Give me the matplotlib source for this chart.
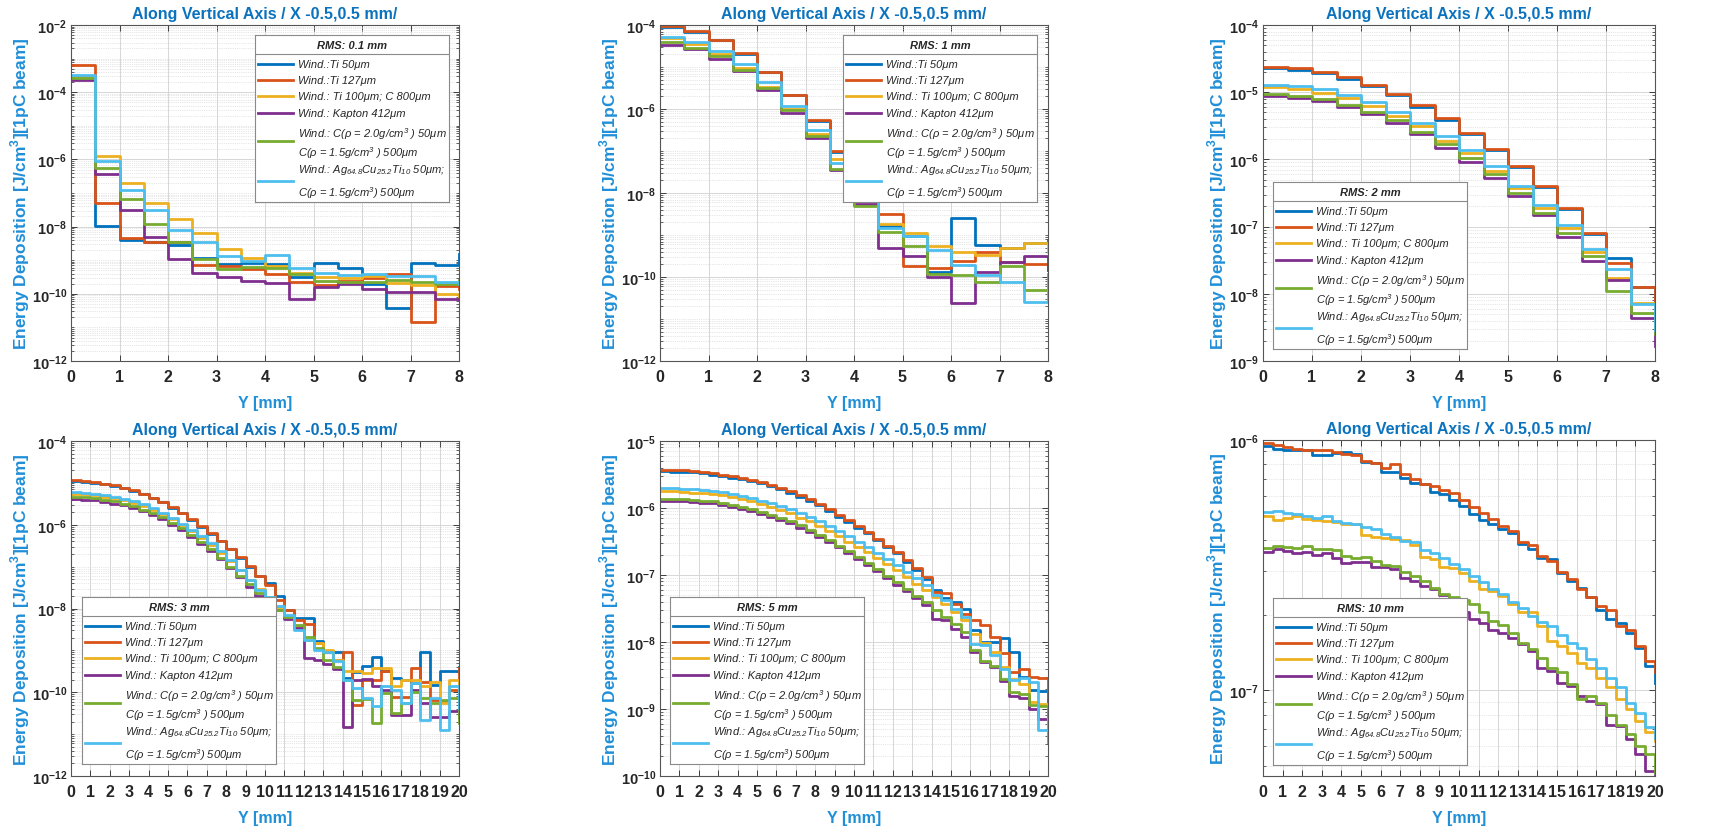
import numpy as np
import matplotlib
matplotlib.use("Agg")
import matplotlib.pyplot as plt
from matplotlib.ticker import LogLocator, NullFormatter, FixedLocator

plt.rcParams['font.family'] = 'Liberation Sans'

# ---------------------------------------------------------------- data
edges_8 = np.linspace(0, 8, 17)
edges_20 = np.linspace(0, 20, 41)

rms_titles = ["RMS: 0.1 mm", "RMS: 1 mm", "RMS: 2 mm", "RMS: 3 mm", "RMS: 5 mm", "RMS: 10 mm"]

labels = [
    ["Wind.:Ti 50μm"],
    ["Wind.:Ti 127μm"],
    ["Wind.: Ti 100μm; C 800μm"],
    ["Wind.: Kapton 412μm"],
    [r"Wind.: C(ρ = 2.0g/cm$^{\mathdefault{3}}$ ) 50μm",
     r"C(ρ = 1.5g/cm$^{\mathdefault{3}}$ ) 500μm"],
    [r"Wind.: Ag$_{\mathdefault{64.8}}$Cu$_{\mathdefault{25.2}}$Ti$_{\mathdefault{10}}$ 50μm;",
     r"C(ρ = 1.5g/cm$^{\mathdefault{3}}$) 500μm"],
]
colors = ['#0072BD', '#D95319', '#EDB120', '#7E2F8E', '#77AC30', '#4DBEEE']

# RMS 0.1 mm  (bins of 0.5 mm, last value = closing edge)
r01_ti50 = [3.0e-4, 1.05e-8, 4.0e-9, 3.5e-9, 2.8e-9, 1.2e-9, 7.6e-10, 8.5e-10, 7.6e-10, 3.2e-10, 8.5e-10, 6.0e-10, 1.9e-10, 3.7e-11, 8.5e-10, 7.2e-10, 1.5e-9]
r01_ti127 = [6.6e-4, 4.9e-8, 4.6e-9, 3.4e-9, 3.4e-9, 7.2e-10, 6.8e-10, 5.3e-10, 4.0e-10, 2.2e-10, 1.8e-10, 2.4e-10, 3.0e-10, 3.8e-10, 1.4e-11, 1.7e-10, 1.4e-10]
r01_ticc = [2.8e-4, 1.3e-6, 2.0e-7, 5.1e-8, 1.7e-8, 6.6e-9, 2.1e-9, 1.2e-9, 6.8e-10, 4.1e-10, 3.2e-10, 3.0e-10, 3.5e-10, 2.1e-10, 1.8e-10, 1.0e-10, 6.5e-11]
r01_kapton = [2.3e-4, 3.6e-7, 3.2e-8, 4.9e-9, 1.07e-9, 4.3e-10, 3.2e-10, 2.4e-10, 2.1e-10, 6.9e-11, 1.6e-10, 1.9e-10, 1.4e-10, 1.1e-10, 1.1e-10, 6.9e-11, 6.5e-11]
r01_carbon = [2.6e-4, 5.7e-7, 6.6e-8, 1.2e-8, 3.4e-9, 1.07e-9, 5.3e-10, 6.4e-10, 6.0e-10, 3.9e-10, 2.4e-10, 2.2e-10, 2.3e-10, 2.6e-10, 2.2e-10, 1.9e-10, 2.6e-10]
r01_agcuti = [3.3e-4, 8.7e-7, 1.2e-7, 3.2e-8, 7.8e-9, 3.4e-9, 1.35e-9, 9.5e-10, 1.45e-9, 5.7e-10, 4.1e-10, 3.6e-10, 3.8e-10, 3.4e-10, 3.5e-10, 2.2e-10, 2.0e-10]

# RMS 1 mm
r1_ti50 = [9.2e-5, 6.8e-5, 4.3e-5, 2.0e-5, 7.4e-6, 2.1e-6, 5.2e-7, 9.5e-8, 1.5e-8, 1.6e-9, 9.5e-10, 1.3e-10, 2.6e-9, 5.9e-10, 4.9e-10, 6.4e-10, 7.5e-10]
r1_ti127 = [9.6e-5, 7.1e-5, 4.5e-5, 2.1e-5, 7.7e-6, 2.2e-6, 5.5e-7, 1.0e-7, 1.7e-8, 3.2e-9, 1.8e-10, 1.6e-10, 2.4e-10, 4.0e-10, 2.3e-10, 2.0e-10, 1.5e-10]
r1_ticc = [4.8e-5, 3.5e-5, 2.0e-5, 9.7e-6, 3.4e-6, 1.0e-6, 2.5e-7, 6.6e-8, 8.0e-9, 1.8e-9, 1.1e-9, 5.6e-10, 3.9e-10, 3.4e-10, 4.9e-10, 6.4e-10, 3.9e-10]
r1_kapton = [3.4e-5, 2.7e-5, 1.55e-5, 8.1e-6, 2.9e-6, 8.2e-7, 2.0e-7, 3.6e-8, 5.6e-9, 4.9e-10, 3.2e-10, 1.0e-10, 2.4e-11, 1.3e-10, 2.3e-10, 3.2e-10, 1.5e-10]
r1_carbon = [3.9e-5, 2.9e-5, 1.8e-5, 8.6e-6, 3.1e-6, 9.3e-7, 2.3e-7, 3.8e-8, 5.0e-9, 1.2e-9, 5.4e-10, 1.2e-10, 1.1e-10, 7.4e-11, 1.8e-10, 4.9e-11, 1.2e-10]
r1_agcuti = [5.1e-5, 3.9e-5, 2.4e-5, 1.2e-5, 4.4e-6, 1.2e-6, 3.1e-7, 5.2e-8, 7.0e-9, 1.5e-9, 9.4e-10, 4.3e-10, 1.9e-10, 1.1e-10, 7.5e-11, 2.6e-11, 8.0e-11]

# RMS 2 mm
r2_ti50 = [2.3e-5, 2.15e-5, 1.9e-5, 1.58e-5, 1.22e-5, 9.0e-6, 6.1e-6, 3.9e-6, 2.4e-6, 1.4e-6, 7.7e-7, 3.9e-7, 1.85e-7, 7.8e-8, 3.4e-8, 1.25e-8, 5.0e-9]
r2_ti127 = [2.4e-5, 2.26e-5, 2.0e-5, 1.66e-5, 1.28e-5, 9.4e-6, 6.4e-6, 4.1e-6, 2.5e-6, 1.45e-6, 8.0e-7, 4.0e-7, 1.9e-7, 8.1e-8, 2.9e-8, 1.28e-8, 7.8e-9]
r2_ticc = [1.18e-5, 1.1e-5, 9.7e-6, 8.1e-6, 6.3e-6, 4.5e-6, 3.1e-6, 1.9e-6, 1.24e-6, 6.8e-7, 3.7e-7, 1.9e-7, 9.5e-8, 4.2e-8, 1.7e-8, 7.4e-9, 3.3e-9]
r2_kapton = [8.9e-6, 8.2e-6, 7.3e-6, 6.0e-6, 4.7e-6, 3.5e-6, 2.4e-6, 1.5e-6, 9.3e-7, 5.3e-7, 2.9e-7, 1.5e-7, 7.0e-8, 3.1e-8, 1.6e-8, 4.3e-9, 1.7e-9]
r2_carbon = [9.4e-6, 8.7e-6, 7.9e-6, 6.5e-6, 5.1e-6, 3.9e-6, 2.6e-6, 1.7e-6, 1.05e-6, 6.0e-7, 3.2e-7, 1.6e-7, 8.1e-8, 3.6e-8, 1.1e-8, 5.2e-9, 2.5e-9]
r2_agcuti = [1.3e-5, 1.22e-5, 1.1e-5, 9.1e-6, 7.1e-6, 5.0e-6, 3.5e-6, 2.2e-6, 1.4e-6, 7.9e-7, 4.0e-7, 2.1e-7, 1.05e-7, 4.6e-8, 2.3e-8, 7.1e-9, 2.9e-9]

# RMS 3 mm
r3_ti50 = [1.1e-5, 1.06e-5, 9.9e-6, 9.2e-6, 8.4e-6, 7.4e-6, 6.4e-6, 5.3e-6, 4.3e-6, 3.4e-6,
           2.5e-6, 1.87e-6, 1.3e-6, 9.0e-7, 6.0e-7, 4.0e-7, 2.6e-7, 1.62e-7, 9.9e-8, 5.9e-8,
           4.1e-8, 1.95e-8, 9.4e-9, 5.9e-9, 5.9e-9, 1.65e-9, 9.5e-10, 8.9e-10, 2.2e-10, 3.0e-10,
           4.3e-10, 6.8e-10, 3.2e-10, 2.2e-10, 2.0e-10, 1.65e-10, 8.9e-10, 1.5e-10, 3.2e-10, 3.2e-10, 4.1e-10]
r3_ti127 = [1.15e-5, 1.10e-5, 1.03e-5, 9.5e-6, 8.7e-6, 7.7e-6, 6.6e-6, 5.5e-6, 4.4e-6, 3.5e-6,
            2.6e-6, 1.93e-6, 1.34e-6, 9.3e-7, 6.2e-7, 4.1e-7, 2.66e-7, 1.68e-7, 1.02e-7, 6.1e-8,
            3.65e-8, 1.63e-8, 9.4e-9, 5.2e-9, 4.3e-9, 1.5e-9, 8.9e-10, 6.0e-10, 8.9e-10, 5.0e-11,
            2.0e-10, 2.0e-10, 3.2e-10, 7.9e-11, 7.9e-11, 3.8e-10, 1.8e-10, 6.6e-11, 6.0e-11, 1.15e-10, 3.8e-10]
r3_ticc = [5.5e-6, 5.3e-6, 5.0e-6, 4.7e-6, 4.3e-6, 3.8e-6, 3.3e-6, 2.8e-6, 2.2e-6, 1.76e-6,
           1.34e-6, 9.8e-7, 7.0e-7, 4.9e-7, 3.25e-7, 2.1e-7, 1.35e-7, 8.2e-8, 4.9e-8, 2.9e-8,
           1.8e-8, 1.1e-8, 6.3e-9, 3.7e-9, 1.8e-9, 1.5e-9, 1.0e-9, 5.8e-10, 3.3e-10, 3.2e-10,
           2.9e-10, 3.8e-10, 3.8e-10, 1.4e-10, 2.0e-10, 2.0e-10, 1.4e-10, 1.8e-10, 5.5e-11, 2.0e-10, 1.0e-10]
r3_kapton = [4.2e-6, 4.0e-6, 3.8e-6, 3.5e-6, 3.2e-6, 2.9e-6, 2.5e-6, 2.1e-6, 1.7e-6, 1.34e-6,
             1.0e-6, 7.3e-7, 5.1e-7, 3.5e-7, 2.3e-7, 1.48e-7, 9.1e-8, 5.5e-8, 3.3e-8, 1.95e-8,
             1.5e-8, 9.4e-9, 5.6e-9, 3.4e-9, 6.6e-10, 6.0e-10, 4.6e-10, 3.5e-10, 1.5e-11, 2.0e-10,
             2.1e-10, 1.4e-10, 1.15e-10, 2.9e-11, 2.9e-11, 1.15e-10, 5.5e-11, 2.5e-11, 2.6e-11, 3.5e-11, 2.6e-11]
r3_carbon = [4.7e-6, 4.5e-6, 4.3e-6, 4.0e-6, 3.6e-6, 3.2e-6, 2.8e-6, 2.3e-6, 1.9e-6, 1.5e-6,
             1.1e-6, 8.2e-7, 5.8e-7, 3.9e-7, 2.57e-7, 1.62e-7, 9.9e-8, 6.1e-8, 3.9e-8, 2.35e-8,
             1.5e-8, 9.4e-9, 6.3e-9, 4.1e-9, 2.1e-9, 1.14e-9, 6.0e-10, 4.0e-10, 2.0e-10, 6.6e-11,
             7.0e-11, 1.8e-11, 9.6e-11, 3.2e-11, 5.5e-11, 1.0e-10, 7.3e-11, 5.5e-11, 6.6e-11, 7.3e-11, 1.8e-11]
r3_agcuti = [6.1e-6, 5.8e-6, 5.5e-6, 5.1e-6, 4.7e-6, 4.2e-6, 3.6e-6, 3.05e-6, 2.45e-6, 1.93e-6,
             1.47e-6, 1.07e-6, 7.7e-7, 5.4e-7, 3.6e-7, 2.3e-7, 1.41e-7, 8.5e-8, 4.9e-8, 2.8e-8,
             1.85e-8, 1.17e-8, 7.1e-9, 3.1e-9, 1.8e-9, 1.0e-9, 8.9e-10, 5.5e-10, 2.0e-10, 1.25e-10,
             7.3e-11, 4.6e-11, 1.4e-10, 1.15e-10, 5.5e-11, 1.65e-10, 2.2e-11, 7.3e-11, 1.26e-11, 1.4e-10, 4.3e-11]

# RMS 5 mm
r5_ti50 = [3.55e-6, 3.5e-6, 3.47e-6, 3.4e-6, 3.3e-6, 3.16e-6, 3.0e-6, 2.82e-6, 2.7e-6, 2.5e-6,
           2.35e-6, 2.15e-6, 1.9e-6, 1.7e-6, 1.48e-6, 1.29e-6, 1.1e-6, 8.9e-7, 7.4e-7, 6.2e-7,
           5.1e-7, 4.2e-7, 3.3e-7, 2.6e-7, 2.1e-7, 1.58e-7, 1.2e-7, 8.7e-8, 6.0e-8, 4.5e-8,
           4.0e-8, 3.1e-8, 1.5e-8, 1.0e-8, 1.0e-8, 1.15e-8, 7.0e-9, 3.0e-9, 1.9e-9, 1.86e-9, 1.2e-9]
r5_ti127 = [3.7e-6, 3.67e-6, 3.63e-6, 3.55e-6, 3.47e-6, 3.3e-6, 3.16e-6, 3.0e-6, 2.82e-6, 2.63e-6,
            2.45e-6, 2.24e-6, 2.0e-6, 1.78e-6, 1.55e-6, 1.35e-6, 1.15e-6, 9.5e-7, 7.9e-7, 6.6e-7,
            5.4e-7, 4.4e-7, 3.5e-7, 2.75e-7, 2.2e-7, 1.7e-7, 1.26e-7, 9.3e-8, 5.6e-8, 5.4e-8,
            3.7e-8, 2.6e-8, 2.15e-8, 1.8e-8, 1.2e-8, 6.8e-9, 3.6e-9, 3.9e-9, 3.0e-9, 2.95e-9, 1.5e-9]
r5_ticc = [1.78e-6, 1.78e-6, 1.74e-6, 1.7e-6, 1.66e-6, 1.62e-6, 1.55e-6, 1.45e-6, 1.35e-6, 1.26e-6,
           1.15e-6, 1.05e-6, 9.3e-7, 8.3e-7, 7.2e-7, 6.3e-7, 5.4e-7, 4.6e-7, 3.8e-7, 3.16e-7,
           2.63e-7, 2.2e-7, 1.78e-7, 1.45e-7, 1.17e-7, 9.3e-8, 7.4e-8, 5.9e-8, 4.7e-8, 3.7e-8,
           2.8e-8, 2.1e-8, 1.32e-8, 9.5e-9, 7.2e-9, 4.2e-9, 2.8e-9, 2.4e-9, 1.26e-9, 1.2e-9, 1.12e-9]
r5_kapton = [1.29e-6, 1.29e-6, 1.26e-6, 1.23e-6, 1.2e-6, 1.17e-6, 1.12e-6, 1.05e-6, 9.8e-7, 8.9e-7,
             8.1e-7, 7.4e-7, 6.6e-7, 5.9e-7, 5.1e-7, 4.4e-7, 3.7e-7, 3.1e-7, 2.6e-7, 2.1e-7,
             1.74e-7, 1.41e-7, 1.15e-7, 9.1e-8, 7.2e-8, 5.8e-8, 4.6e-8, 3.6e-8, 2.2e-8, 2.1e-8,
             1.58e-8, 1.2e-8, 7.1e-9, 5.0e-9, 4.2e-9, 2.6e-9, 1.58e-9, 1.45e-9, 1.0e-9, 7.1e-10, 8.9e-10]
r5_carbon = [1.38e-6, 1.38e-6, 1.35e-6, 1.32e-6, 1.29e-6, 1.26e-6, 1.2e-6, 1.12e-6, 1.05e-6, 9.5e-7,
             8.7e-7, 7.9e-7, 7.1e-7, 6.3e-7, 5.5e-7, 4.7e-7, 4.0e-7, 3.3e-7, 2.75e-7, 2.3e-7,
             1.86e-7, 1.51e-7, 1.23e-7, 9.8e-8, 7.8e-8, 6.2e-8, 4.9e-8, 3.9e-8, 3.0e-8, 2.4e-8,
             1.86e-8, 1.41e-8, 7.6e-9, 5.2e-9, 4.4e-9, 2.8e-9, 1.78e-9, 1.66e-9, 1.15e-9, 1.1e-9, 3.2e-10]
r5_agcuti = [2.0e-6, 2.0e-6, 1.95e-6, 1.9e-6, 1.86e-6, 1.82e-6, 1.74e-6, 1.62e-6, 1.51e-6, 1.41e-6,
             1.29e-6, 1.17e-6, 1.07e-6, 9.5e-7, 8.5e-7, 7.4e-7, 6.3e-7, 5.4e-7, 4.6e-7, 3.8e-7,
             3.16e-7, 2.63e-7, 2.14e-7, 1.74e-7, 1.41e-7, 1.12e-7, 8.9e-8, 7.1e-8, 5.0e-8, 4.2e-8,
             3.16e-8, 2.4e-8, 9.3e-9, 9.1e-9, 6.5e-9, 4.0e-9, 2.7e-9, 2.9e-9, 2.5e-9, 4.9e-10, 7.1e-10]

# RMS 10 mm
r10_ti50 = [9.45e-7, 9.2e-7, 9.15e-7, 9.1e-7, 9.1e-7, 8.7e-7, 8.7e-7, 8.85e-7, 8.95e-7, 8.8e-7,
            8.17e-7, 8.1e-7, 7.45e-7, 7.45e-7, 7.08e-7, 6.75e-7, 6.7e-7, 6.2e-7, 6.07e-7, 5.75e-7,
            5.45e-7, 5.05e-7, 4.79e-7, 4.6e-7, 4.4e-7, 4.26e-7, 3.83e-7, 3.66e-7, 3.39e-7, 3.34e-7,
            2.93e-7, 2.73e-7, 2.57e-7, 2.35e-7, 2.1e-7, 1.92e-7, 1.85e-7, 1.7e-7, 1.48e-7, 1.25e-7, 1.07e-7]
r10_ti127 = [9.7e-7, 9.55e-7, 9.4e-7, 9.2e-7, 9.1e-7, 9.1e-7, 9.1e-7, 8.95e-7, 8.8e-7, 8.7e-7,
             8.25e-7, 8.1e-7, 7.75e-7, 8.0e-7, 7.3e-7, 7.0e-7, 6.7e-7, 6.55e-7, 6.3e-7, 6.15e-7,
             5.75e-7, 5.4e-7, 5.1e-7, 4.85e-7, 4.55e-7, 4.35e-7, 3.9e-7, 3.8e-7, 3.45e-7, 3.3e-7,
             2.97e-7, 2.78e-7, 2.53e-7, 2.35e-7, 2.17e-7, 2.1e-7, 1.81e-7, 1.74e-7, 1.5e-7, 1.31e-7, 1.18e-7]
r10_ticc = [4.97e-7, 4.79e-7, 4.9e-7, 4.97e-7, 4.85e-7, 4.79e-7, 4.75e-7, 4.7e-7, 4.6e-7, 4.6e-7,
            4.16e-7, 4.11e-7, 4.07e-7, 4.03e-7, 4.0e-7, 3.8e-7, 3.42e-7, 3.34e-7, 3.12e-7, 3.09e-7,
            2.95e-7, 2.73e-7, 2.55e-7, 2.49e-7, 2.38e-7, 2.22e-7, 2.06e-7, 2.05e-7, 1.81e-7, 1.57e-7,
            1.5e-7, 1.41e-7, 1.29e-7, 1.23e-7, 1.12e-7, 1.03e-7, 9.2e-8, 8.4e-8, 7.54e-8, 6.82e-8, 6.3e-8]
r10_kapton = [3.57e-7, 3.68e-7, 3.6e-7, 3.55e-7, 3.57e-7, 3.46e-7, 3.55e-7, 3.39e-7, 3.22e-7, 3.26e-7,
              3.26e-7, 3.12e-7, 3.12e-7, 3.04e-7, 2.82e-7, 2.73e-7, 2.6e-7, 2.53e-7, 2.4e-7, 2.21e-7,
              2.05e-7, 1.92e-7, 1.85e-7, 1.75e-7, 1.7e-7, 1.62e-7, 1.53e-7, 1.44e-7, 1.23e-7, 1.19e-7,
              1.07e-7, 1.04e-7, 9.5e-8, 9.07e-8, 8.8e-8, 7.3e-8, 7.2e-8, 6.37e-8, 5.55e-8, 4.77e-8, 4.55e-8]
r10_carbon = [3.71e-7, 3.77e-7, 3.75e-7, 3.71e-7, 3.77e-7, 3.66e-7, 3.66e-7, 3.64e-7, 3.44e-7, 3.39e-7,
              3.42e-7, 3.28e-7, 3.16e-7, 3.14e-7, 2.97e-7, 2.86e-7, 2.73e-7, 2.57e-7, 2.42e-7, 2.37e-7,
              2.3e-7, 2.21e-7, 2.05e-7, 1.89e-7, 1.82e-7, 1.7e-7, 1.55e-7, 1.46e-7, 1.35e-7, 1.23e-7,
              1.18e-7, 1.06e-7, 9.2e-8, 9.5e-8, 8.9e-8, 8.0e-8, 7.3e-8, 6.67e-8, 6.0e-8, 5.55e-8, 4.69e-8]
r10_agcuti = [5.16e-7, 5.2e-7, 5.13e-7, 5.05e-7, 4.97e-7, 4.9e-7, 4.97e-7, 4.75e-7, 4.68e-7, 4.6e-7,
              4.49e-7, 4.43e-7, 4.2e-7, 4.11e-7, 3.95e-7, 3.91e-7, 3.64e-7, 3.55e-7, 3.39e-7, 3.19e-7,
              3.04e-7, 2.86e-7, 2.71e-7, 2.53e-7, 2.42e-7, 2.25e-7, 2.14e-7, 1.98e-7, 1.87e-7, 1.81e-7,
              1.67e-7, 1.55e-7, 1.48e-7, 1.33e-7, 1.23e-7, 1.12e-7, 1.03e-7, 8.9e-8, 8.15e-8, 7.16e-8, 6.47e-8]

panels = [
    (edges_8, [r01_ti50, r01_ti127, r01_ticc, r01_kapton, r01_carbon, r01_agcuti], (1e-12, 1e-2), [1e-12, 1e-10, 1e-8, 1e-6, 1e-4, 1e-2]),
    (edges_8, [r1_ti50, r1_ti127, r1_ticc, r1_kapton, r1_carbon, r1_agcuti], (1e-12, 1e-4), [1e-12, 1e-10, 1e-8, 1e-6, 1e-4]),
    (edges_8, [r2_ti50, r2_ti127, r2_ticc, r2_kapton, r2_carbon, r2_agcuti], (1e-9, 1e-4), [1e-9, 1e-8, 1e-7, 1e-6, 1e-5, 1e-4]),
    (edges_20, [r3_ti50, r3_ti127, r3_ticc, r3_kapton, r3_carbon, r3_agcuti], (1e-12, 1e-4), [1e-12, 1e-10, 1e-8, 1e-6, 1e-4]),
    (edges_20, [r5_ti50, r5_ti127, r5_ticc, r5_kapton, r5_carbon, r5_agcuti], (1e-10, 1e-5), [1e-10, 1e-9, 1e-8, 1e-7, 1e-6, 1e-5]),
    (edges_20, [r10_ti50, r10_ti127, r10_ticc, r10_kapton, r10_carbon, r10_agcuti], (4.55e-8, 1e-6), [1e-7, 1e-6]),
]

# ---------------------------------------------------------------- layout (pixels)
FIG_W, FIG_H = 1723, 828
axes_px = [(71, 26, 388, 336), (660, 26, 388, 336), (1263, 26, 392, 336),
           (71, 442, 388, 335), (660, 442, 388, 335), (1263, 441, 392, 336)]
legend_px = [(255, 36), (843, 36), (1273, 183), (82, 598), (670, 598), (1273, 599)]
LEG_W, LEG_H = 194, 167
row_line_y = [29, 45, 61.3, 77.7, 105.7, 145.7]
row_text_y = [[29], [45], [61.3], [77.7], [98.3, 117.3], [134, 157.3]]

TITLE_C = '#0B72BD'
LABEL_C = '#1F8FD8'
DARK = '#262626'


def px_rect(left, top, width, height):
    return [left / FIG_W, 1 - (top + height) / FIG_H, width / FIG_W, height / FIG_H]


def draw_legend(fig, left, top, title):
    lax = fig.add_axes(px_rect(left, top, LEG_W, LEG_H))
    lax.set_xlim(0, LEG_W)
    lax.set_ylim(LEG_H, 0)
    lax.set_xticks([])
    lax.set_yticks([])
    for s in lax.spines.values():
        s.set_color('#8a8a8a')
        s.set_linewidth(0.8)
    lax.text(LEG_W / 2, 9.7, title, ha='center', va='center', fontsize=8,
             fontweight='bold', fontstyle='italic', color=DARK)
    lax.axhline(19, color='#8a8a8a', lw=0.8)
    for lines, color, yl, yts in zip(labels, colors, row_line_y, row_text_y):
        lax.plot([3, 38], [yl, yl], color=color, lw=2)
        for txt, yt in zip(lines, yts):
            lax.text(43, yt, txt, ha='left', va='center', fontsize=8,
                     fontstyle='italic', color=DARK)


fig = plt.figure(figsize=(FIG_W / 100, FIG_H / 100), dpi=100)

for (edges, series, ylim, yticks), rect, leg, title in zip(panels, axes_px, legend_px, rms_titles):
    ax = fig.add_axes(px_rect(*rect))
    for vals, color in zip(series, colors):
        ax.step(edges, vals, where='post', color=color, lw=2)
    ax.set_yscale('log')
    ax.set_xlim(edges[0], edges[-1])
    ax.set_ylim(*ylim)
    ax.yaxis.set_major_locator(FixedLocator(yticks))
    ax.yaxis.set_minor_locator(LogLocator(base=10, subs=np.arange(1, 10), numticks=100))
    ax.yaxis.set_minor_formatter(NullFormatter())
    ax.set_xticks(np.arange(edges[0], edges[-1] + 1, 1))

    ax.grid(True, which='major', color='#d6d6d6', lw=0.7)
    ax.grid(True, which='minor', axis='y', color='#cfcfcf', lw=0.5, ls=':')
    ax.set_axisbelow(True)
    ax.tick_params(which='both', direction='in', top=True, right=True, colors=DARK)
    ax.tick_params(which='major', length=4, width=0.6)
    ax.tick_params(which='minor', length=2, width=0.5)
    ax.tick_params(axis='x', labelsize=11.5, pad=6)
    ax.tick_params(axis='y', labelsize=10.5, pad=3)
    for lab in ax.get_xticklabels() + ax.get_yticklabels():
        lab.set_fontweight('bold')
    for s in ax.spines.values():
        s.set_color('#555555')
        s.set_linewidth(0.8)

    ax.set_title("Along Vertical Axis / X -0.5,0.5 mm/", fontsize=11.5,
                 fontweight='bold', color=TITLE_C, pad=5)
    ax.set_xlabel("Y [mm]", fontsize=11.5, fontweight='bold', color=LABEL_C, labelpad=8)
    ax.set_ylabel(r"Energy Deposition [J/cm$^{\mathdefault{3}}$][1pC beam]", fontsize=12.5,
                  fontweight='bold', color=LABEL_C, labelpad=0)

    draw_legend(fig, leg[0], leg[1], title)

fig.savefig("out.png", dpi=100)
